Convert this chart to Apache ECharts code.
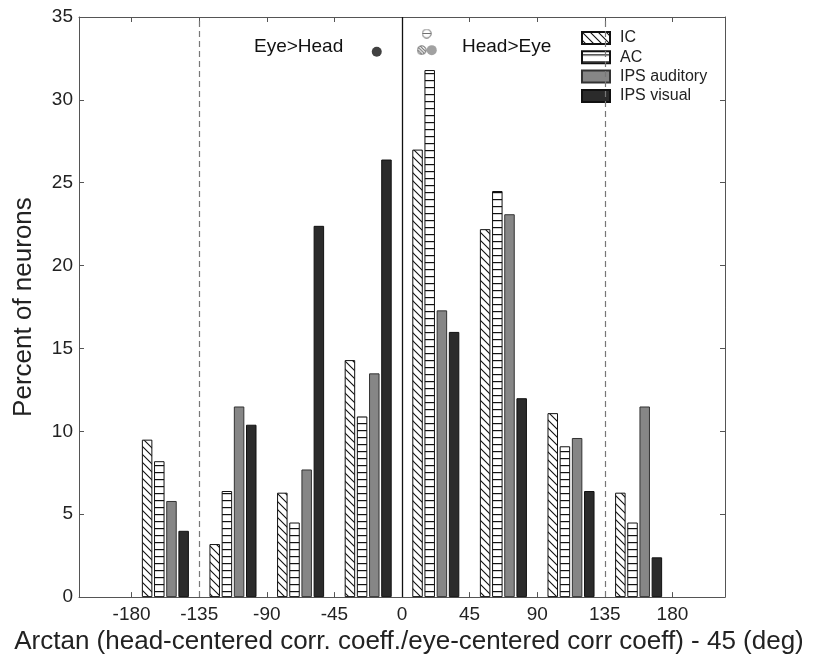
<!DOCTYPE html>
<html><head><meta charset="utf-8">
<script src="https://cdn.jsdelivr.net/npm/echarts@6/dist/echarts.min.js"></script>
<style>html,body{margin:0;padding:0;background:#fff}#c{width:814px;height:660px}</style>
</head><body><div id="c"></div>
<script>
// ---- data ----
const binCenters   = [-157.5, -112.5, -67.5, -22.5, 22.5, 67.5, 112.5, 157.5];
const icValues     = [9.5, 3.2, 6.3, 14.3, 27.0, 22.2, 11.1, 6.3];
const acValues     = [8.2, 6.4, 4.5, 10.9, 31.8, 24.5, 9.1, 4.5];
const ipsAudValues = [5.8, 11.5, 7.7, 13.5, 17.3, 23.1, 9.6, 11.5];
const ipsVisValues = [4.0, 10.4, 22.4, 26.4, 16.0, 12.0, 6.4, 2.4];
const seriesNames  = ['IC', 'AC', 'IPS auditory', 'IPS visual'];
const xTickValues  = [-180, -135, -90, -45, 0, 45, 90, 135, 180];
const dashedLineX  = [-135, 135];
const zeroLineX    = [0];
// mean markers near top [x, y]
const icMean     = [13.1, 33.0];
const acMean     = [16.4, 34.0];
const ipsAudMean = [19.8, 33.0];
const ipsVisMean = [-16.8, 32.9];
const xAxisTitle = 'Arctan (head-centered corr. coeff./eye-centered corr coeff) - 45 (deg)';
const yAxisTitle = 'Percent of neurons';

const FONT = '"Liberation Sans", Arial, Helvetica, sans-serif';

function diagCanvas(bg) {
  const c = document.createElement('canvas'); c.width = 8; c.height = 8;
  const g = c.getContext('2d');
  g.fillStyle = bg; g.fillRect(0, 0, 8, 8);
  g.strokeStyle = '#111'; g.lineWidth = 1.1;
  g.beginPath();
  g.moveTo(-1, -1); g.lineTo(9, 9);
  g.moveTo(-5, 3); g.lineTo(5, 13);
  g.moveTo(3, -5); g.lineTo(13, 5);
  g.stroke();
  return c;
}
function horizCanvas() {
  const c = document.createElement('canvas'); c.width = 4; c.height = 7;
  const g = c.getContext('2d');
  g.fillStyle = '#fff'; g.fillRect(0, 0, 4, 7);
  g.fillStyle = '#111'; g.fillRect(0, 3, 4, 1.2);
  return c;
}
function markerCanvas(kind) {
  const s = 22; const c = document.createElement('canvas'); c.width = s; c.height = s;
  const g = c.getContext('2d');
  g.save();
  g.beginPath(); g.arc(s/2, s/2, s/2 - 1.5, 0, Math.PI*2); g.closePath();
  g.fillStyle = '#fff'; g.fill();
  g.clip();
  g.strokeStyle = '#333'; g.lineWidth = 2;
  if (kind === 'diag') {
    for (let k = -s; k < s*2; k += 7) { g.beginPath(); g.moveTo(k, 0); g.lineTo(k + s, s); g.stroke(); }
  } else {
    g.beginPath(); g.moveTo(0, s/2); g.lineTo(s, s/2); g.stroke();
  }
  g.restore();
  g.beginPath(); g.arc(s/2, s/2, s/2 - 1.5, 0, Math.PI*2);
  g.strokeStyle = '#555'; g.lineWidth = 2; g.stroke();
  return 'image://' + c.toDataURL();
}

const diagPattern  = { image: diagCanvas('#fff'), repeat: 'repeat' };
const horizPattern = { image: horizCanvas(), repeat: 'repeat' };

const barCommon = { type: 'bar', barWidth: 10.5, barGap: '16%', xAxisIndex: 0, yAxisIndex: 0 };
const toPairs = vals => binCenters.map((x, i) => [x, vals[i]]);

const chart = echarts.init(document.getElementById('c'), null, { renderer: 'canvas' });

const axisLineStyle = { color: '#555', width: 1 };
const option = {
  animation: false,
  backgroundColor: '#fff',
  textStyle: { fontFamily: FONT },
  grid: { left: 79, right: 89, top: 17, bottom: 59, containLabel: false },
  legend: {
    data: seriesNames,
    orient: 'vertical',
    left: 581, top: 30, padding: 0,
    icon: 'rect',
    itemWidth: 28, itemHeight: 12, itemGap: 3.3,
    textStyle: { fontSize: 16, color: '#222', fontFamily: FONT, padding: [0, 0, 0, 5] },
    selectedMode: false
  },
  xAxis: [
    {
      type: 'value', position: 'bottom', min: -215, max: 215,
      axisLine: { show: true, onZero: false, lineStyle: axisLineStyle },
      axisTick: { show: true, inside: true, length: 5, customValues: xTickValues, lineStyle: axisLineStyle },
      axisLabel: { customValues: xTickValues, fontSize: 19, color: '#222', margin: 8, fontFamily: FONT },
      splitLine: { show: false },
      name: xAxisTitle, nameLocation: 'middle', nameGap: 18,
      nameTextStyle: { fontSize: 26, color: '#222', fontFamily: FONT, padding: [0, 0, 0, 14] }
    },
    {
      type: 'value', position: 'top', min: -215, max: 215,
      axisLine: { show: true, onZero: false, lineStyle: axisLineStyle },
      axisTick: { show: true, inside: true, length: 5, customValues: xTickValues, lineStyle: axisLineStyle },
      axisLabel: { show: false },
      splitLine: { show: false }
    }
  ],
  yAxis: [
    {
      type: 'value', position: 'left', min: 0, max: 35, interval: 5,
      axisLine: { show: true, onZero: false, lineStyle: axisLineStyle },
      axisTick: { show: true, inside: true, length: 5, lineStyle: axisLineStyle },
      axisLabel: { fontSize: 19, color: '#222', margin: 6, fontFamily: FONT },
      splitLine: { show: false },
      name: yAxisTitle, nameLocation: 'middle', nameGap: 42,
      nameTextStyle: { fontSize: 26, color: '#222', fontFamily: FONT }
    },
    {
      type: 'value', position: 'right', min: 0, max: 35, interval: 5,
      axisLine: { show: true, onZero: false, lineStyle: axisLineStyle },
      axisTick: { show: true, inside: true, length: 5, lineStyle: axisLineStyle },
      axisLabel: { show: false },
      splitLine: { show: false }
    }
  ],
  series: [
    Object.assign({}, barCommon, {
      name: 'IC', data: toPairs(icValues),
      itemStyle: { color: diagPattern, borderColor: '#111', borderWidth: 1 }
    }),
    Object.assign({}, barCommon, {
      name: 'AC', data: toPairs(acValues),
      itemStyle: { color: horizPattern, borderColor: '#111', borderWidth: 1 }
    }),
    Object.assign({}, barCommon, {
      name: 'IPS auditory', data: toPairs(ipsAudValues),
      itemStyle: { color: '#868686', borderColor: '#333', borderWidth: 1 }
    }),
    Object.assign({}, barCommon, {
      name: 'IPS visual', data: toPairs(ipsVisValues),
      itemStyle: { color: '#2b2b2b', borderColor: '#111', borderWidth: 1 }
    }),
    { type: 'scatter', name: 'IC mean', data: [icMean], symbol: markerCanvas('diag'), symbolSize: 10, z: 5 },
    { type: 'scatter', name: 'IPS auditory mean', data: [ipsAudMean], symbol: 'circle', symbolSize: 10,
      itemStyle: { color: '#8a8a8a' }, z: 6 },
    { type: 'scatter', name: 'AC mean', data: [acMean], symbol: markerCanvas('horiz'), symbolSize: 10, z: 5 },
    { type: 'scatter', name: 'IPS visual mean', data: [ipsVisMean], symbol: 'circle', symbolSize: 10,
      itemStyle: { color: '#111' }, z: 5,
      markLine: {
        silent: true, symbol: ['none', 'none'], label: { show: false }, animation: false,
        data: dashedLineX.map(x => ({ xAxis: x, lineStyle: { type: [6, 4], color: '#777', width: 1.2 } }))
          .concat(zeroLineX.map(x => ({ xAxis: x, lineStyle: { type: 'solid', color: '#111', width: 1.3 } })))
      }
    }
  ],
  graphic: [
    { type: 'text', left: 254, top: 37, style: { text: 'Eye>Head', font: '19px ' + FONT, fill: '#111' } },
    { type: 'text', left: 462, top: 37, style: { text: 'Head>Eye', font: '19px ' + FONT, fill: '#111' } }
  ]
};
chart.setOption(option);
</script>
</body></html>
